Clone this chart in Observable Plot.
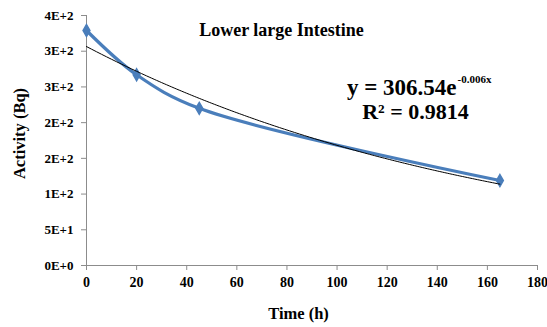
<!DOCTYPE html>
<html>
<head>
<meta charset="utf-8">
<script src="https://cdn.jsdelivr.net/npm/d3@7"></script>
<script src="https://cdn.jsdelivr.net/npm/@observablehq/plot@0.6"></script>
<style>
  html, body { margin: 0; padding: 0; background: #fff; }
  #chart svg { display: block; }
  #chart svg, #chart svg text { font-family: "Liberation Serif", "Times New Roman", serif !important; }
  #chart g[aria-label="y-axis tick label"] text { font-size: 13px !important; font-weight: bold; }
  #chart g[aria-label="x-axis tick label"] text { font-size: 14px !important; font-weight: bold; }
</style>
</head>
<body>
<div id="chart"></div>
<script>
// Data
const timeH = [0, 20, 45, 165];
const activityBq = [329, 267, 220, 119];
const yTicks = [0, 50, 100, 150, 200, 250, 300, 350];
const yTickLabels = ["0E+0", "5E+1", "1E+2", "2E+2", "2E+2", "3E+2", "3E+2", "4E+2"];
const xTicks = [0, 20, 40, 60, 80, 100, 120, 140, 160, 180];
const fitA = 306.54;
const fitB = -0.006;
const titleText = "Lower large Intestine";
const eqMain = "y = 306.54e";
const eqExp = "-0.006x";
const r2Text = "R² = 0.9814";

const points = timeH.map((t, i) => ({t, a: activityBq[i]}));
const fitSamples = d3.range(0, 165.01, 1).map(t => ({t, a: fitA * Math.exp(fitB * t)}));

const font = "Liberation Serif";
const axisColor = "#8c8c8c";
const blue = "#4a7ebb";

const plot = Plot.plot({
  width: 547,
  height: 327,
  marginLeft: 86,
  marginRight: 10,
  marginTop: 15,
  marginBottom: 62,
  style: {fontFamily: font, fontWeight: "bold", fontSize: "12px", color: "#000", background: "#fff"},
  x: {domain: [0, 180]},
  y: {domain: [0, 350]},
  marks: [
    Plot.axisY({ticks: yTicks, tickFormat: (d, i) => yTickLabels[i], tickSize: 5, stroke: axisColor, tickPadding: 8, fontSize: 13, fontFamily: font, fontWeight: "bold", label: null}),
    Plot.axisX({ticks: xTicks, tickSize: 5, stroke: axisColor, tickPadding: 7, fontSize: 14, fontFamily: font, fontWeight: "bold", label: null}),
    Plot.ruleX([0], {stroke: axisColor, strokeWidth: 1}),
    Plot.ruleY([0], {stroke: axisColor, strokeWidth: 1}),
    Plot.line(points, {x: "t", y: "a", stroke: blue, strokeWidth: 3.2, curve: "catmull-rom"}),
    Plot.dot(points, {x: "t", y: "a", symbol: "diamond", r: 3.6, fill: blue, stroke: blue}),
    Plot.line(fitSamples, {x: "t", y: "a", stroke: "#000", strokeWidth: 1}),
    Plot.text([titleText], {frameAnchor: "top-left", dx: -86 + 281, dy: -15 + 23, text: d => d, textAnchor: "middle", fontSize: 18, fontFamily: font, fontWeight: "bold", fill: "#000"}),
    Plot.text([eqMain], {frameAnchor: "top-left", dx: -86 + 456, dy: -15 + 78, text: d => d, textAnchor: "end", fontSize: 23, fontFamily: font, fontWeight: "bold", fill: "#000"}),
    Plot.text([eqExp], {frameAnchor: "top-left", dx: -86 + 457, dy: -15 + 75, text: d => d, textAnchor: "start", fontSize: 11, fontFamily: font, fontWeight: "bold", fill: "#000"}),
    Plot.text([r2Text], {frameAnchor: "top-left", dx: -86 + 415, dy: -15 + 103, text: d => d, textAnchor: "middle", fontSize: 22, fontFamily: font, fontWeight: "bold", fill: "#000"}),
    Plot.text(["Activity (Bq)"], {frameAnchor: "top-left", dx: -86 + 13, dy: -15 + 133, text: d => d, textAnchor: "middle", rotate: -90, fontSize: 16.5, fontFamily: font, fontWeight: "bold", fill: "#000"}),
    Plot.text(["Time (h)"], {frameAnchor: "top-left", dx: -86 + 298, dy: -15 + 307, text: d => d, textAnchor: "middle", fontSize: 16.5, fontFamily: font, fontWeight: "bold", fill: "#000"})
  ]
});
document.getElementById("chart").appendChild(plot);
</script>
</body>
</html>
